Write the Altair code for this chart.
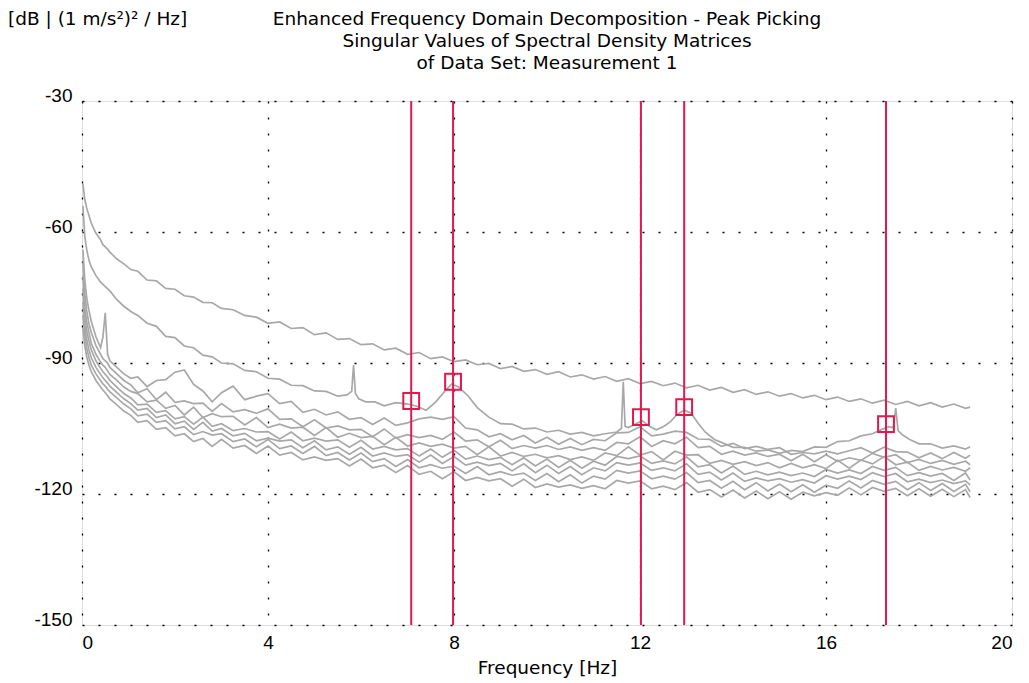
import altair as alt
import pandas as pd

# ---------------- data ----------------
FREQ = [0.02, 0.06, 0.1, 0.15, 0.2, 0.3, 0.4, 0.45, 0.5, 0.55, 0.6, 0.75, 0.9, 1.05,
        1.2, 1.4, 1.6, 1.8, 2.0, 2.2, 2.4, 2.6, 2.8, 3.0,
        3.25, 3.5, 3.75, 4.0, 4.25, 4.5, 4.75, 5.0, 5.25, 5.5, 5.75, 6.0,
        6.25, 6.5, 6.75, 7.0, 7.25, 7.5, 7.75, 8.0, 8.25, 8.5, 8.75, 9.0,
        9.25, 9.5, 9.75, 10.0, 10.25, 10.5, 10.75, 11.0, 11.25, 11.5, 11.75, 12.0,
        12.25, 12.5, 12.75, 13.0, 13.25, 13.5, 13.75, 14.0, 14.25, 14.5, 14.75, 15.0,
        15.25, 15.5, 15.75, 16.0, 16.25, 16.5, 16.75, 17.0, 17.25, 17.5, 17.75, 18.0,
        18.25, 18.5, 18.75, 19.0, 19.1]

SV1 = [-49, -52.5, -54.5, -56.2, -58, -60.3, -61.8, -62.9, -63.4, -63.9, -64.6, -66.2, -67.3, -68.6,
       -69.0, -71.0, -71.2, -72.9, -73.1, -74.6, -74.9, -76.1, -76.2, -77.5,
       -77.8, -79.1, -79.5, -80.9, -80.6, -82.1, -81.9, -83.5, -83.1, -84.6, -84.4, -85.8,
       -85.6, -87.0, -86.6, -88.0, -87.6, -89.0, -88.6, -89.7, -89.3, -90.4, -90.1, -91.3,
       -90.8, -91.9, -91.5, -92.6, -92.0, -93.2, -92.7, -93.7, -93.1, -94.2, -93.6, -94.7,
       -94.2, -95.2, -94.6, -95.7, -95.1, -96.2, -95.6, -96.7, -96.1, -97.2, -96.6, -97.6,
       -97.0, -98.0, -97.4, -98.4, -97.8, -98.8, -98.2, -99.2, -98.5, -99.5, -98.8, -99.8,
       -99.1, -100.1, -99.4, -100.4, -100.1]

SV3 = [-64, -71, -75, -78, -80.5, -84, -86.5, -84, -78.5, -88, -89.5, -91, -92.5, -93.5,
       -93.2, -95.4, -94.0, -93.8, -92.1, -91.6, -94.9, -96.4, -98.9, -96.8,
       -95.3, -98.4, -97.6, -97.0, -99.3, -98.8, -101.3, -100.6, -101.9, -101.2, -102.9, -102.5,
       -104.1, -102.6, -104.3, -103.7, -102.8, -102.4, -102.9, -102.3, -104.9, -105.3, -106.9, -106.2,
       -107.6, -106.6, -108.3, -107.0, -108.6, -107.3, -108.7, -107.5, -107.8, -106.0, -105.9, -104.6,
       -106.7, -106.3, -105.6, -105.9, -107.4, -107.5, -109.1, -108.4, -109.6, -109.1, -109.8, -109.4,
       -110.9, -110.5, -110.8, -110.2, -110.8, -110.1, -109.4, -110.6, -109.3, -110.3, -110.4, -111.7,
       -110.6, -111.9, -110.5, -111.8, -111.1]

SV4 = [-67, -74, -78, -81, -83, -86, -88, -89, -89.5, -90, -91, -92.5, -94, -95,
       -96.8, -95.9, -98.4, -96.7, -99.0, -98.7, -99.3, -99.2, -101.1, -99.3,
       -101.2, -100.7, -101.5, -100.5, -102.9, -102.8, -104.6, -103.0, -104.9, -104.4, -105.3, -105.2,
       -106.9, -105.1, -107.2, -106.4, -107.1, -106.6, -107.5, -105.8, -107.9, -107.6, -109.2, -107.7,
       -109.6, -108.9, -109.5, -108.9, -109.8, -109.2, -110.0, -109.4, -110.0, -108.2, -108.5, -106.9,
       -109.1, -107.8, -108.5, -107.0, -109.4, -109.1, -110.9, -110.2, -111.1, -110.6, -111.4, -110.9,
       -112.4, -110.9, -112.6, -111.0, -112.5, -111.7, -112.3, -110.7, -111.6, -111.0, -112.8, -112.1,
       -113.0, -112.3, -113.2, -112.5, -113.3]

SV5 = [-70, -77, -80.5, -83, -85.5, -88, -89.8, -90.5, -91, -91.8, -92.6, -94, -95.5, -96.5,
       -97.0, -98.9, -98.5, -100.4, -99.7, -101.9, -100.1, -102.5, -101.6, -102.3,
       -102.2, -104.2, -102.5, -104.8, -104.0, -104.9, -104.7, -106.6, -104.8, -107.0, -106.1, -107.1,
       -106.8, -108.7, -107.0, -109.0, -108.3, -109.1, -108.6, -109.5, -109.1, -111.0, -109.2, -111.3,
       -110.5, -111.4, -110.9, -111.7, -111.2, -112.1, -111.5, -112.3, -110.6, -111.2, -109.2, -111.1,
       -110.3, -112.2, -110.2, -111.1, -111.0, -113.0, -112.3, -113.2, -112.6, -113.5, -112.8, -114.0,
       -113.0, -114.0, -113.3, -114.2, -112.3, -114.1, -112.2, -113.1, -111.4, -113.3, -112.7, -114.6,
       -113.7, -114.5, -113.9, -114.8, -114.0]

SV6 = [-73, -79.5, -82.5, -85, -87, -89.5, -91.2, -92, -92.6, -93.2, -94, -95.5, -97, -98,
       -99.6, -99.4, -101.3, -100.9, -102.8, -102.3, -104.0, -102.4, -104.5, -103.9,
       -105.5, -105.0, -105.8, -105.7, -107.4, -105.8, -107.8, -107.2, -107.9, -107.6, -109.3, -107.7,
       -109.7, -109.1, -109.9, -109.6, -111.3, -109.7, -111.6, -110.0, -112.0, -111.3, -112.1, -111.6,
       -113.3, -111.7, -113.6, -112.0, -113.9, -112.3, -114.1, -112.5, -113.4, -111.4, -111.9, -111.3,
       -113.0, -112.4, -113.1, -111.5, -113.8, -113.3, -115.2, -113.6, -115.5, -114.8, -115.6, -115.0,
       -115.8, -115.2, -116.0, -114.4, -115.2, -114.5, -115.3, -113.7, -114.6, -113.9, -115.8, -115.1,
       -115.9, -115.3, -116.9, -115.2, -116.8]

SV7 = [-76, -81.5, -84.5, -87, -88.8, -91, -92.6, -93.4, -94, -94.6, -95.3, -96.8, -98.2, -99.3,
       -100.8, -100.4, -102.5, -101.9, -103.9, -103.3, -105.2, -103.6, -105.6, -105.0,
       -106.7, -106.1, -107.8, -107.2, -107.9, -107.6, -109.4, -107.8, -109.9, -109.2, -110.9, -109.3,
       -111.3, -110.6, -111.4, -111.0, -112.7, -111.1, -113.0, -111.4, -113.4, -112.7, -113.5, -113.0,
       -114.7, -113.1, -115.1, -113.4, -115.3, -113.7, -115.6, -114.0, -114.7, -112.8, -113.4, -112.9,
       -114.6, -114.0, -114.7, -113.1, -115.5, -115.0, -116.8, -115.2, -117.1, -116.3, -117.0, -116.5,
       -117.3, -116.7, -117.5, -115.8, -116.6, -115.9, -116.7, -115.1, -116.0, -115.3, -117.2, -116.6,
       -117.4, -116.8, -117.6, -117.0, -117.9]

SV8 = [-79, -83.5, -86.5, -88.8, -90.5, -92.5, -94, -94.8, -95.3, -96, -96.6, -98, -99.4, -100.5,
       -102.1, -101.7, -103.6, -103.2, -105.1, -104.6, -106.4, -105.7, -106.5, -106.2,
       -108.0, -107.4, -109.2, -107.5, -109.6, -109.0, -110.7, -109.1, -111.2, -110.5, -112.2, -110.6,
       -112.6, -111.9, -113.7, -112.1, -114.0, -113.3, -114.1, -113.6, -115.3, -113.7, -115.6, -114.9,
       -115.7, -115.2, -116.9, -115.3, -117.2, -115.6, -117.5, -115.9, -116.6, -114.6, -115.2, -114.7,
       -116.5, -115.9, -116.6, -115.1, -117.4, -116.9, -118.7, -117.1, -119.0, -117.4, -119.3, -117.7,
       -119.5, -117.9, -119.6, -118.0, -118.7, -117.0, -118.6, -116.9, -117.8, -117.1, -119.0, -117.4,
       -119.2, -117.6, -119.4, -117.8, -119.5]

SV9 = [-82, -86, -88.5, -90.5, -92, -94, -95.5, -96.2, -96.8, -97.5, -98.2, -99.6, -101, -102,
       -103.6, -103.2, -105.2, -104.8, -106.7, -106.2, -108.0, -107.3, -109.1, -107.5,
       -109.5, -108.9, -110.7, -109.0, -111.1, -110.5, -112.2, -111.5, -112.3, -111.9, -113.6, -112.0,
       -114.0, -113.4, -115.1, -113.5, -115.5, -114.8, -116.5, -114.9, -116.9, -116.2, -117.0, -116.5,
       -118.2, -116.6, -118.5, -117.7, -118.4, -117.9, -118.7, -118.1, -118.8, -116.9, -117.5, -117.0,
       -118.8, -118.2, -119.0, -117.4, -119.6, -119.0, -120.7, -119.1, -120.9, -119.3, -121.1, -119.5,
       -121.2, -119.6, -120.4, -119.7, -120.3, -118.6, -120.2, -118.5, -119.4, -118.7, -120.4, -118.8,
       -120.5, -118.9, -120.6, -119.0, -120.8]

# second singular value, on its own finer frequency list (narrow spikes)
FREQ2 = [0.02, 0.06, 0.1, 0.15, 0.2, 0.3, 0.4, 0.5, 0.6, 0.75, 0.9, 1.05,
         1.2, 1.4, 1.6, 1.8, 2.0, 2.2, 2.4, 2.6, 2.8, 3.0,
         3.25, 3.5, 3.75, 4.0, 4.25, 4.5, 4.75, 5.0, 5.25, 5.5, 5.7, 5.8, 5.84, 5.88, 5.95,
         6.1, 6.3, 6.5, 6.75, 7.0, 7.2, 7.4, 7.6, 7.8, 7.95, 8.1, 8.3, 8.5, 8.75,
         9.0, 9.25, 9.5, 9.75, 10.0, 10.25, 10.5, 10.75, 11.0, 11.25, 11.5, 11.6, 11.64, 11.68, 11.75, 11.9,
         12.05, 12.2, 12.35, 12.5, 12.65, 12.8, 12.95, 13.1, 13.25, 13.4, 13.6, 13.8,
         14.0, 14.25, 14.5, 14.75, 15.0, 15.25, 15.5, 15.75, 16.0, 16.25, 16.5, 16.75,
         17.0, 17.2, 17.35, 17.45, 17.5, 17.55, 17.65, 17.8, 18.0, 18.25, 18.5, 18.75, 19.0, 19.1]

SV2 = [-54, -61, -64, -66.5, -68, -70, -71.5, -72.5, -73.5, -75.5, -77, -78.2,
       -79.1, -80.9, -81.6, -83.9, -84.2, -86.1, -86.5, -88.2, -88.6, -90.0,
       -90.2, -91.7, -92.0, -93.5, -93.7, -95.1, -95.2, -96.4, -96.5, -97.6, -97.3, -96.5, -90.5, -97, -98.2,
       -98.9, -98.9, -99.8, -99.1, -99.4, -99.9, -100.8, -99, -96.5, -94.8, -95.5, -97.5, -100.2, -102.4,
       -103.9, -104.0, -105.1, -104.9, -105.8, -105.4, -106.3, -105.9, -106.7, -106.2, -105.8, -105, -94.3, -104.5, -104.8, -104,
       -103.2, -104.5, -105.3, -104.6, -103.5, -101.8, -100.8, -101.5, -103.8, -105.8, -107.5, -108.4,
       -109.3, -109.3, -110.2, -109.9, -110.7, -110.0, -110.3, -109.2, -109.3, -108.0, -107.8, -106.7,
       -106.2, -105.2, -104.6, -104.8, -100.3, -105.5, -106.5, -107.5, -108.5, -108.5, -109.5, -109.0, -109.7, -109.2]

# picked peaks
PEAK_FREQ = [7.08, 7.98, 12.02, 12.95, 17.29]
PEAK_DB = [-98.7, -94.3, -102.4, -100.1, -104.0]

TITLE_LINES = ["Enhanced Frequency Domain Decomposition - Peak Picking",
               "Singular Values of Spectral Density Matrices",
               "of Data Set: Measurement 1"]
UNIT_LABEL = "[dB | (1 m/s²)² / Hz]"
X_TITLE = "Frequency [Hz]"
X_TICKS = [0, 4, 8, 12, 16, 20]
Y_TICKS = [-150, -120, -90, -60, -30]

# ---------------- build tables ----------------
rows = []
for name, vals in [("SV1", SV1), ("SV3", SV3), ("SV4", SV4), ("SV5", SV5),
                   ("SV6", SV6), ("SV7", SV7), ("SV8", SV8), ("SV9", SV9)]:
    for f, v in zip(FREQ, vals):
        rows.append((name, f, v))
for f, v in zip(FREQ2, SV2):
    rows.append(("SV2", f, v))
curves = pd.DataFrame(rows, columns=["curve", "freq", "db"])
peaks = pd.DataFrame({"freq": PEAK_FREQ, "db": PEAK_DB})

RED = "#e0194f"
GRAY = "#a8a8a8"
TXT_FONT = "DejaVu Sans"
NUM_FONT = "Liberation Sans"
TXT_SIZE = 18.5

xs = alt.Scale(domain=[0, 20], nice=False, zero=False)
ys = alt.Scale(domain=[-150, -30], nice=False, zero=False)

x_axis = alt.Axis(values=X_TICKS, title=X_TITLE, ticks=False, labelPadding=8,
                  labelExpr="toString(datum.value)",
                  grid=True, gridColor="black", gridDash=[2, 14], gridWidth=1.3,
                  labelFont=NUM_FONT, labelFontSize=19, labelColor="black",
                  titleFont=TXT_FONT, titleFontSize=TXT_SIZE, titleFontWeight="normal",
                  titleColor="black", titlePadding=6, domain=False)
y_axis = alt.Axis(values=Y_TICKS, title=None, ticks=False, labelPadding=10,
                  labelExpr="toString(datum.value)",
                  labelBaseline="alphabetic", labelOffset=0,
                  grid=True, gridColor="black", gridDash=[2, 14], gridWidth=1.3,
                  labelFont=NUM_FONT, labelFontSize=19, labelColor="black",
                  domain=False)

lines = alt.Chart(curves).mark_line(color=GRAY, strokeWidth=1.7, clip=True).encode(
    x=alt.X("freq:Q", scale=xs, axis=x_axis),
    y=alt.Y("db:Q", scale=ys, axis=y_axis),
    detail="curve:N",
)
rules = alt.Chart(peaks).mark_rule(color=RED, strokeWidth=2).encode(
    x=alt.X("freq:Q", scale=xs),
)
marks = alt.Chart(peaks).mark_point(shape="square", filled=False, size=250,
                                    strokeWidth=2, color=RED, opacity=1).encode(
    x=alt.X("freq:Q", scale=xs),
    y=alt.Y("db:Q", scale=ys),
)

# text annotations (title lines and unit label) placed in the top padding
text_layers = []
for i, line in enumerate(TITLE_LINES):
    text_layers.append(
        alt.Chart(pd.DataFrame({"t": [line]})).mark_text(
            font=TXT_FONT, fontSize=TXT_SIZE, color="black",
            align="center", baseline="middle").encode(
            text="t:N", x=alt.value(465), y=alt.value(-82 + 22 * i))
    )
text_layers.append(
    alt.Chart(pd.DataFrame({"t": [UNIT_LABEL]})).mark_text(
        font=TXT_FONT, fontSize=TXT_SIZE, color="black",
        align="left", baseline="top").encode(
        text="t:N", x=alt.value(-74), y=alt.value(-91))
)

chart = alt.layer(lines, rules, marks, *text_layers).properties(
    width=930, height=524,
    autosize=alt.AutoSizeParams(type="none"),
    padding={"left": 74, "top": 93, "right": 9, "bottom": 58},
).configure_view(stroke="black", strokeWidth=2).configure(background="white")

chart.save("out.html", embed_options={"renderer": "svg", "actions": False})
